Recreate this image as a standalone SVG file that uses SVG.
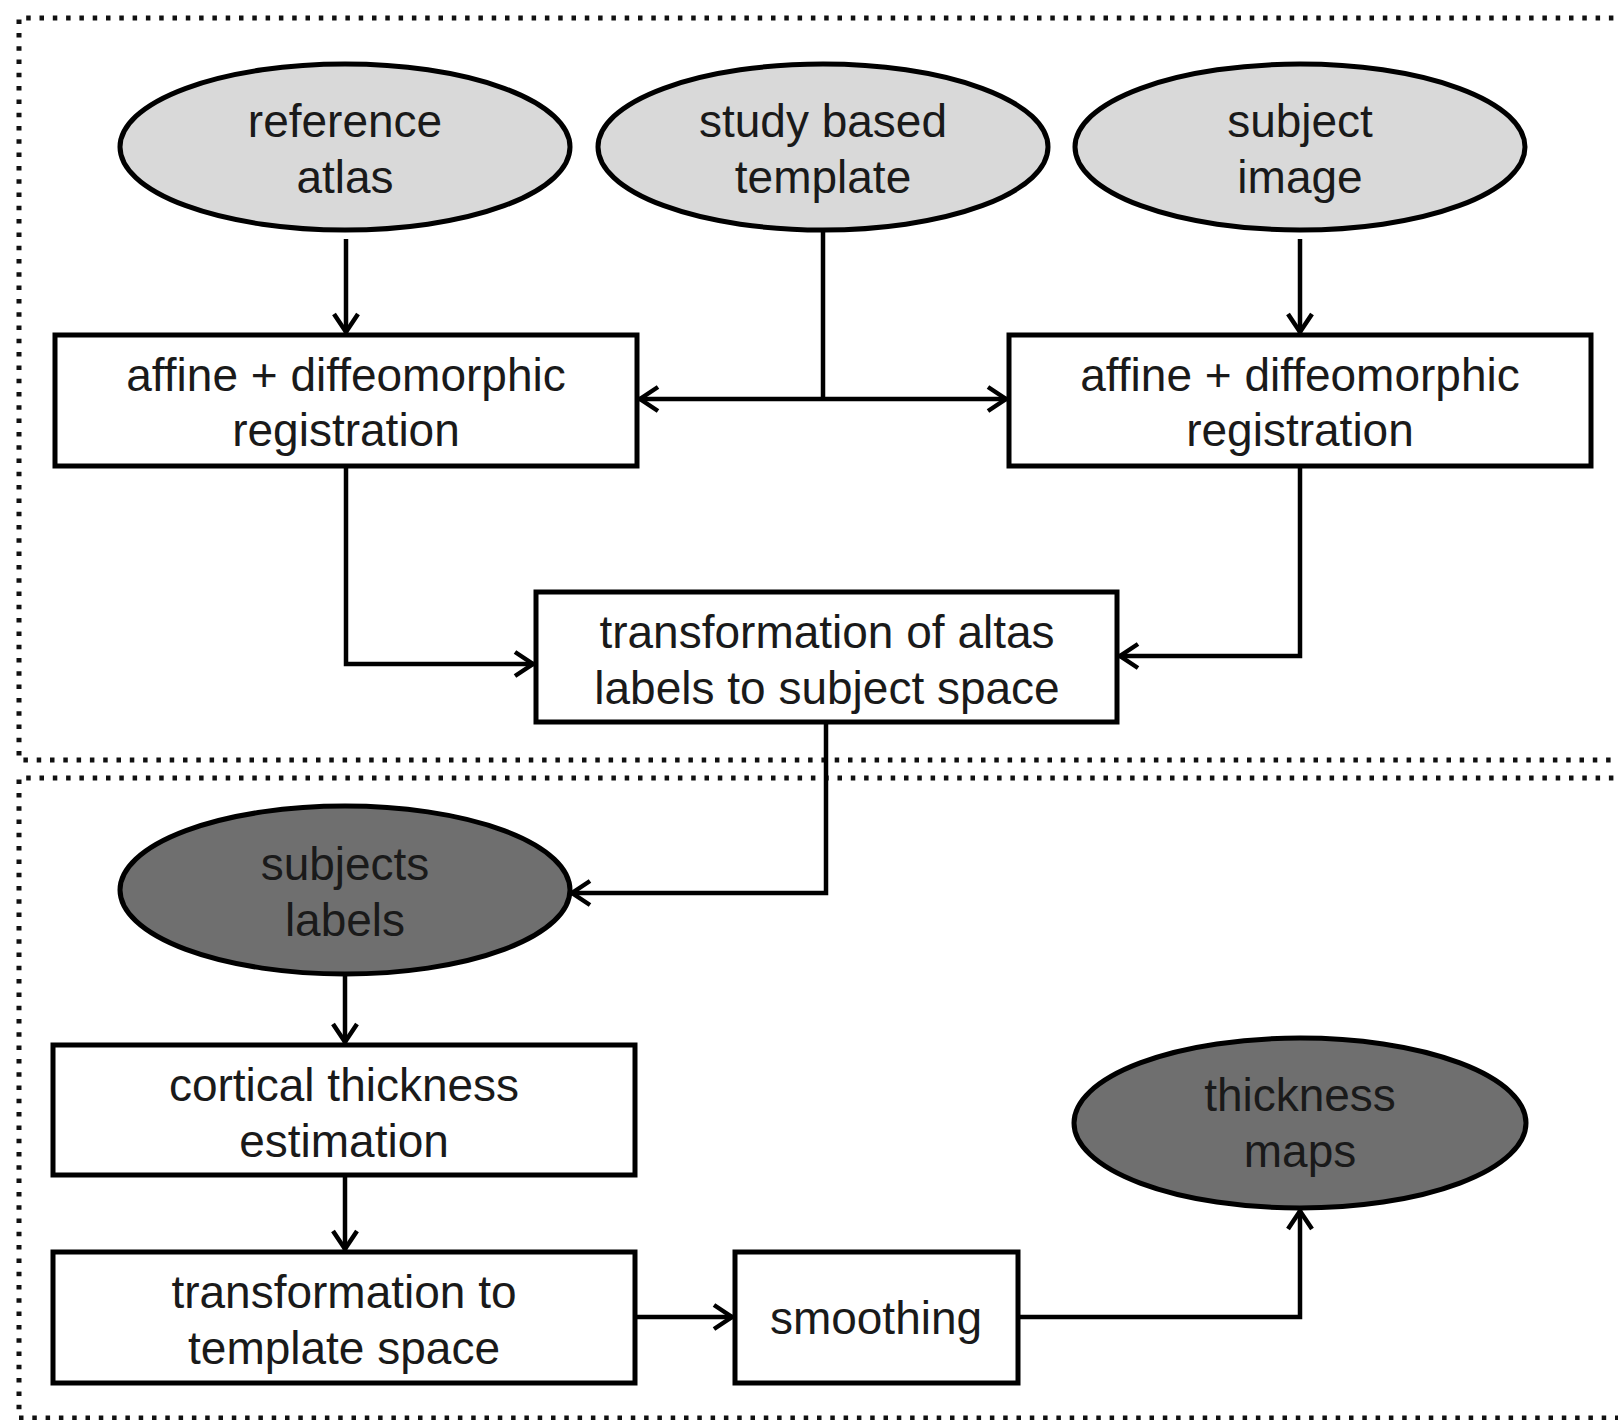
<svg xmlns="http://www.w3.org/2000/svg" width="1618" height="1420" viewBox="0 0 1618 1420">
<style>
.frame{fill:none;stroke:#111;stroke-width:5;stroke-dasharray:4.5 8.8}
.light{fill:#d9d9d9;stroke:#000;stroke-width:5}
.dark{fill:#6f6f6f;stroke:#000;stroke-width:5}
.box{fill:#fff;stroke:#000;stroke-width:5}
.lbl{font-family:"Liberation Sans",Arial,sans-serif;font-size:46px;fill:#1a1a1a;text-anchor:middle}
.edge{fill:none;stroke:#000;stroke-width:4.5;marker-end:url(#arr)}
.line{fill:none;stroke:#000;stroke-width:4.5}
</style>
<defs>
<marker id="arr" viewBox="0 0 26 30" refX="22" refY="15" markerWidth="26" markerHeight="30" markerUnits="userSpaceOnUse" orient="auto">
<path d="M3,3 L21,15 L3,27" fill="none" stroke="#000" stroke-width="4.5"/>
</marker>
</defs>
<rect width="1618" height="1420" fill="#fff"/>
<path class="frame" d="M1640,18 H19 V760 H1640"/>
<path class="frame" d="M1640,778 H19 V1418 H1640"/>

<g id="connectors">
<path class="edge" d="M346,239 V333"/>
<path class="edge" d="M1300,239 V333"/>
<path class="line" d="M823,231 V399"/>
<path class="edge" d="M823,399 H639"/>
<path class="edge" d="M823,399 H1007"/>
<path class="edge" d="M346,466 V664 H534"/>
<path class="edge" d="M1300,466 V656 H1119"/>
<path class="edge" d="M826,722 V893 H571"/>
<path class="edge" d="M345,974 V1043"/>
<path class="edge" d="M345,1175 V1250"/>
<path class="edge" d="M635,1317 H733"/>
<path class="edge" d="M1018,1317 H1300 V1210"/>
</g>

<g id="reference-atlas">
<ellipse class="light" cx="345" cy="147" rx="225" ry="83"/>
<text class="lbl" x="345" y="137">reference</text>
<text class="lbl" x="345" y="193">atlas</text>
</g>
<g id="study-template">
<ellipse class="light" cx="823" cy="147" rx="225" ry="83"/>
<text class="lbl" x="823" y="137">study based</text>
<text class="lbl" x="823" y="193">template</text>
</g>
<g id="subject-image">
<ellipse class="light" cx="1300" cy="147" rx="225" ry="83"/>
<text class="lbl" x="1300" y="137">subject</text>
<text class="lbl" x="1300" y="193">image</text>
</g>
<g id="registration-left">
<rect class="box" x="55" y="335" width="582" height="131"/>
<text class="lbl" x="346" y="391">affine + diffeomorphic</text>
<text class="lbl" x="346" y="446">registration</text>
</g>
<g id="registration-right">
<rect class="box" x="1009" y="335" width="582" height="131"/>
<text class="lbl" x="1300" y="391">affine + diffeomorphic</text>
<text class="lbl" x="1300" y="446">registration</text>
</g>
<g id="transformation-labels">
<rect class="box" x="536" y="592" width="581" height="130"/>
<text class="lbl" x="827" y="648">transformation of altas</text>
<text class="lbl" x="827" y="704">labels to subject space</text>
</g>
<g id="subjects-labels">
<ellipse class="dark" cx="345" cy="890" rx="225" ry="84"/>
<text class="lbl" x="345" y="880">subjects</text>
<text class="lbl" x="345" y="936">labels</text>
</g>
<g id="cortical-thickness">
<rect class="box" x="53" y="1045" width="582" height="130"/>
<text class="lbl" x="344" y="1101">cortical thickness</text>
<text class="lbl" x="344" y="1157">estimation</text>
</g>
<g id="transformation-template">
<rect class="box" x="53" y="1252" width="582" height="131"/>
<text class="lbl" x="344" y="1308">transformation to</text>
<text class="lbl" x="344" y="1364">template space</text>
</g>
<g id="smoothing">
<rect class="box" x="735" y="1252" width="283" height="131"/>
<text class="lbl" x="876" y="1334">smoothing</text>
</g>
<g id="thickness-maps">
<ellipse class="dark" cx="1300" cy="1123" rx="226" ry="85"/>
<text class="lbl" x="1300" y="1111">thickness</text>
<text class="lbl" x="1300" y="1167">maps</text>
</g>
</svg>
